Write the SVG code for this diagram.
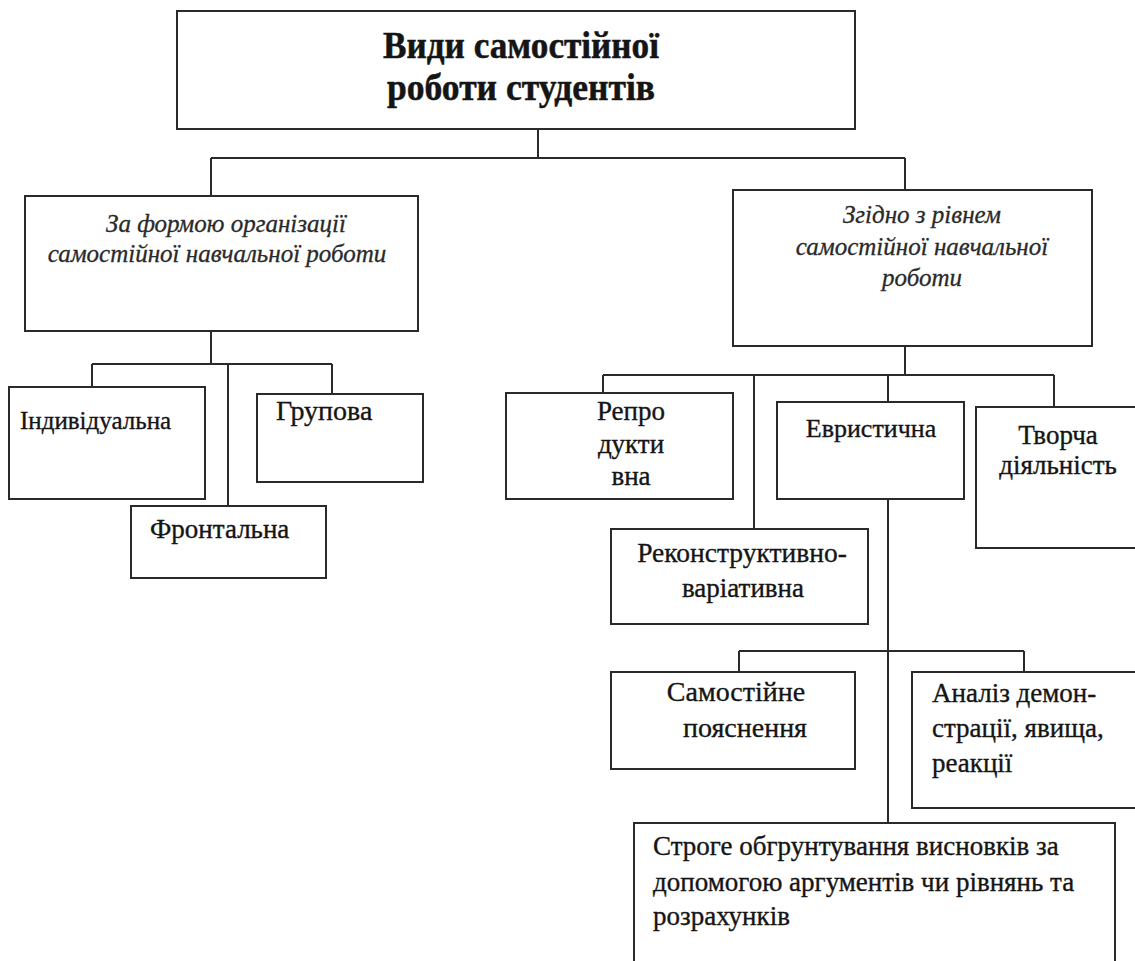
<svg xmlns="http://www.w3.org/2000/svg" width="1135" height="961" viewBox="0 0 1135 961">
<style>
.box{fill:#fff;stroke:#2a2a2a;stroke-width:2}
.ln{fill:none;stroke:#2a2a2a;stroke-width:2}
.t{font-family:"Liberation Serif","Times New Roman",serif;fill:#151515;stroke:#151515;stroke-width:0.35;font-size:27px}
.c{text-anchor:middle}
.it{font-style:italic;font-size:25px;fill:#2a2a2a;stroke:#2a2a2a;stroke-width:0.3}
.ti{font-weight:bold;font-size:38px;stroke-width:0.5}
</style>
<rect width="1135" height="961" fill="#fff"/>
<g id="connectors">
<path class="ln" d="M538 129V158M211 158H905M211 158V196M905 158V190"/>
<path class="ln" d="M211 331V364M92 364H332M92 364V387M332 364V394M228 364V506"/>
<path class="ln" d="M905 346V375M603 375H1054M603 375V393M754 375V529M888 375V402M1054 375V407"/>
<path class="ln" d="M888 499V823M739 651H1024M739 651V672M1024 651V672"/>
</g>
<g id="root"><rect class="box" x="177" y="11" width="678" height="118"/>
<text class="t ti" x="383" y="58" textLength="276" lengthAdjust="spacingAndGlyphs">Види самостійної</text>
<text class="t ti" x="387" y="100" textLength="268" lengthAdjust="spacingAndGlyphs">роботи студентів</text></g>
<g id="form"><rect class="box" x="25" y="196" width="393" height="135"/>
<text class="t it c" x="226" y="232">За формою організації</text>
<text class="t it c" x="217" y="262">самостійної навчальної роботи</text></g>
<g id="level"><rect class="box" x="733" y="190" width="359" height="156"/>
<text class="t it c" x="922" y="223">Згідно з рівнем</text>
<text class="t it c" x="922" y="255">самостійної навчальної</text>
<text class="t it c" x="922" y="286">роботи</text></g>
<g id="indiv"><rect class="box" x="9" y="387" width="196" height="112"/>
<text class="t" x="20" y="429" style="font-size:25px">Індивідуальна</text></g>
<g id="group"><rect class="box" x="257" y="394" width="166" height="88"/>
<text class="t" x="276" y="420" style="font-size:28px">Групова</text></g>
<g id="front"><rect class="box" x="131" y="506" width="195" height="72"/>
<text class="t" x="150" y="538">Фронтальна</text></g>
<g id="repro"><rect class="box" x="506" y="393" width="227" height="106"/>
<text class="t c" x="631" y="420">Репро</text>
<text class="t c" x="631" y="453">дукти</text>
<text class="t c" x="631" y="485">вна</text></g>
<g id="heur"><rect class="box" x="777" y="402" width="187" height="97"/>
<text class="t c" x="871" y="437" style="font-size:26px">Евристична</text></g>
<g id="creative"><rect class="box" x="976" y="407" width="170" height="141"/>
<text class="t c" x="1058" y="444">Творча</text>
<text class="t c" x="1058" y="474">діяльність</text></g>
<g id="recon"><rect class="box" x="611" y="529" width="257" height="95"/>
<text class="t c" x="742" y="562" style="font-size:27.5px">Реконструктивно-</text>
<text class="t c" x="743" y="597">варіативна</text></g>
<g id="self"><rect class="box" x="611" y="672" width="244" height="97"/>
<text class="t c" x="736" y="701" style="font-size:28px">Самостійне</text>
<text class="t c" x="745" y="737" style="font-size:28px">пояснення</text></g>
<g id="analysis"><rect class="box" x="912" y="672" width="240" height="136"/>
<text class="t" x="932" y="702">Аналіз демон-</text>
<text class="t" x="932" y="737">страції, явища,</text>
<text class="t" x="932" y="772">реакції</text></g>
<g id="strict"><rect class="box" x="634" y="823" width="481" height="160"/>
<text class="t" x="653" y="855">Строге обгрунтування висновків за</text>
<text class="t" x="653" y="891">допомогою аргументів чи рівнянь та</text>
<text class="t" x="653" y="925">розрахунків</text></g>
</svg>
